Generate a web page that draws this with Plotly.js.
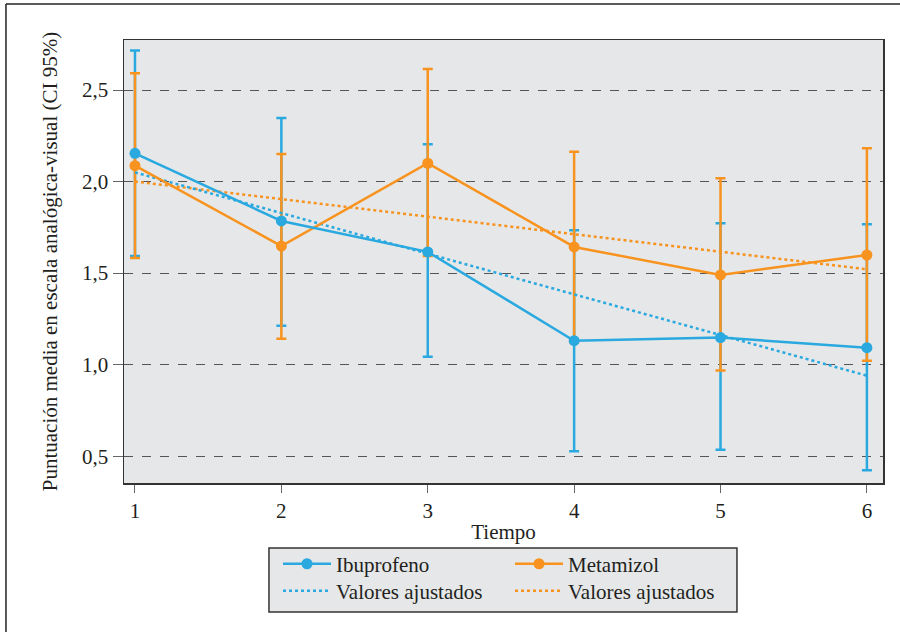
<!DOCTYPE html>
<html>
<head>
<meta charset="utf-8">
<script src="https://cdn.plot.ly/plotly-3.0.1.min.js"></script>
<style>html,body{margin:0;padding:0;background:#fff;}#chart{width:900px;height:632px;}</style>
</head>
<body>
<div id="chart"></div>
<script>
// Data
var tiempo = [1, 2, 3, 4, 5, 6];
var ibuMedia = [2.154, 1.785, 1.616, 1.131, 1.148, 1.093];
var ibuSup   = [2.715, 2.347, 2.204, 1.734, 1.772, 1.767];
var ibuInf   = [1.593, 1.212, 1.044, 0.528, 0.535, 0.424];
var metMedia = [2.087, 1.648, 2.100, 1.643, 1.490, 1.599];
var metSup   = [2.591, 2.151, 2.615, 2.163, 2.018, 2.182];
var metInf   = [1.583, 1.141, 1.594, 1.123, 0.968, 1.022];
var ibuAjust = [2.050, 1.828, 1.606, 1.384, 1.162, 0.940];
var metAjust = [2.000, 1.904, 1.808, 1.713, 1.617, 1.521];
var yTicks = [0.5, 1.0, 1.5, 2.0, 2.5];
var yTickText = ['0,5', '1,0', '1,5', '2,0', '2,5'];

var AZUL = '#29a9e0', NARANJA = '#f7931e';
var FONT = '"Liberation Serif", "Times New Roman", Times, serif';

function diff(a, b) { return a.map(function (v, i) { return v - b[i]; }); }

var traces = [
  { x: tiempo, y: ibuMedia, type: 'scatter', mode: 'markers', marker: {opacity: 0, size: 1},
    error_y: {type: 'data', symmetric: false, array: diff(ibuSup, ibuMedia), arrayminus: diff(ibuMedia, ibuInf),
      color: AZUL, thickness: 2.5, width: 5},
    showlegend: false, hoverinfo: 'skip' },
  { x: tiempo, y: metMedia, type: 'scatter', mode: 'markers', marker: {opacity: 0, size: 1},
    error_y: {type: 'data', symmetric: false, array: diff(metSup, metMedia), arrayminus: diff(metMedia, metInf),
      color: NARANJA, thickness: 2.5, width: 5},
    showlegend: false, hoverinfo: 'skip' },
  { x: tiempo, y: metAjust, type: 'scatter', mode: 'lines', name: 'Valores ajustados',
    line: {color: NARANJA, width: 2.5, dash: 'dot'}, legend: 'legend4' },
  { x: tiempo, y: ibuAjust, type: 'scatter', mode: 'lines', name: 'Valores ajustados',
    line: {color: AZUL, width: 2.5, dash: 'dot'}, legend: 'legend3' },
  { x: tiempo, y: metMedia, type: 'scatter', mode: 'lines+markers', name: 'Metamizol',
    line: {color: NARANJA, width: 2.5}, marker: {color: NARANJA, size: 11}, legend: 'legend2' },
  { x: tiempo, y: ibuMedia, type: 'scatter', mode: 'lines+markers', name: 'Ibuprofeno',
    line: {color: AZUL, width: 2.5}, marker: {color: AZUL, size: 11}, legend: 'legend' }
];

function leg(x, y) {
  return {
    orientation: 'v', xanchor: 'left', yanchor: 'top', x: x, y: y,
    bgcolor: 'rgba(0,0,0,0)', borderwidth: 0, itemwidth: 48,
    font: {family: FONT, size: 21, color: '#231f20'}
  };
}

var layout = {
  width: 900, height: 632,
  margin: {l: 124, r: 17, t: 40, b: 149},
  paper_bgcolor: '#ffffff', plot_bgcolor: '#e6e7e8',
  separators: ',.',
  font: {family: FONT, size: 21, color: '#231f20'},
  xaxis: {
    range: [0.925, 6.11], tickvals: tiempo, ticktext: tiempo.map(String),
    showgrid: false, zeroline: false,
    showline: true, linecolor: '#333333', linewidth: 1.5, mirror: true,
    ticks: 'outside', ticklen: 8, tickwidth: 1, tickcolor: '#666666',
    tickfont: {family: FONT, size: 21, color: '#231f20'},
    title: {text: 'Tiempo', font: {family: FONT, size: 21, color: '#231f20'}, standoff: 2}
  },
  yaxis: {
    range: [0.354, 2.773], tickvals: yTicks, ticktext: yTickText,
    showgrid: true, gridcolor: '#555555', gridwidth: 1, griddash: 'dash', zeroline: false,
    showline: true, linecolor: '#333333', linewidth: 1.5, mirror: true,
    ticks: 'outside', ticklen: 10, tickwidth: 1, tickcolor: '#666666',
    tickfont: {family: FONT, size: 21, color: '#231f20'},
    title: {text: 'Puntuación media en escala analógica-visual (CI 95%)', font: {family: FONT, size: 21, color: '#231f20'}, standoff: 18}
  },
  legend: leg(0.2029, -0.1368),
  legend2: leg(0.5086, -0.1368),
  legend3: leg(0.2029, -0.1977),
  legend4: leg(0.5086, -0.1977),
  shapes: [
    {type: 'rect', xref: 'paper', yref: 'paper', x0: 0.191, x1: 0.8076, y0: -0.2912, y1: -0.1467,
      fillcolor: '#e6e7e8', line: {color: '#333333', width: 1.5}, layer: 'below'},
    {type: 'line', xref: 'paper', yref: 'paper', x0: -0.1555, x1: 1.03, y0: 1.0813, y1: 1.0813,
      line: {color: '#222222', width: 1.5}},
    {type: 'line', xref: 'paper', yref: 'paper', x0: -0.1555, x1: -0.1555, y0: 1.0813, y1: -0.34,
      line: {color: '#222222', width: 1.5}}
  ],
  showlegend: true
};

Plotly.newPlot('chart', traces, layout, {displayModeBar: false, staticPlot: true});
</script>
</body>
</html>
